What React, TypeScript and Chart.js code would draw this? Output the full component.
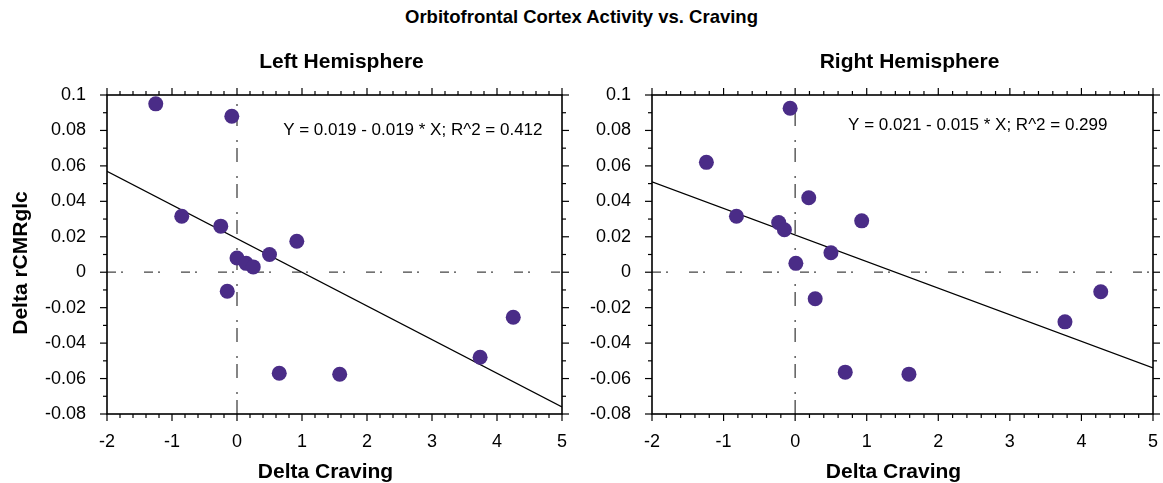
import React, { useEffect, useRef } from 'react';
import { Chart, registerables } from 'chart.js';
Chart.register(...registerables);

const FONT = "'Liberation Sans', Arial, Helvetica, sans-serif";

// ---- data ----
const leftX = [-1.25, -0.08, -0.85, -0.25, 0.0, 0.14, 0.25, 0.5, 0.92, -0.15, 0.65, 1.58, 3.74, 4.25];
const leftY = [0.095, 0.088, 0.0316, 0.026, 0.008, 0.005, 0.003, 0.01, 0.0175, -0.0107, -0.057, -0.0576, -0.048, -0.0254];
const rightX = [-1.24, -0.82, -0.23, -0.15, -0.07, 0.19, 0.01, 0.5, 0.93, 0.28, 0.7, 1.59, 3.77, 4.27];
const rightY = [0.062, 0.0316, 0.028, 0.024, 0.0925, 0.042, 0.005, 0.011, 0.029, -0.015, -0.0564, -0.0575, -0.028, -0.011];

// regression lines (endpoints at axis limits)
const fitX = [-2, 5];
const leftFitY = [0.057, -0.076];
const rightFitY = [0.051, -0.054];

// zero reference lines
const zeroHX = [-2, 5];
const zeroHY = [0, 0];
const zeroVX = [0, 0];
const zeroVY = [-0.08, 0.1];

const X_MIN = -2;
const X_MAX = 5;
const Y_MIN = -0.08;
const Y_MAX = 0.1;

const mainTitle = 'Orbitofrontal Cortex Activity vs. Craving';
const leftTitle = 'Left Hemisphere';
const rightTitle = 'Right Hemisphere';
const xTitle = 'Delta Craving';
const yTitle = 'Delta rCMRglc';
const leftEq = 'Y = 0.019 - 0.019 * X; R^2 = 0.412';
const rightEq = 'Y = 0.021 - 0.015 * X; R^2 = 0.299';

type PanelProps = {
  left: number;
  width: number;
  yAxisWidth: number;
  padRight: number;
  xs: number[];
  ys: number[];
  fitY: number[];
  subtitle: string;
  equation: string;
  eqPos: [number, number];
  showYTitle: boolean;
};

function Panel(p: PanelProps) {
  const ref = useRef<HTMLCanvasElement | null>(null);
  useEffect(() => {
    if (!ref.current) return;
    const pts = p.xs.map((x, i) => ({ x, y: p.ys[i] }));
    const fit = fitX.map((x, i) => ({ x, y: p.fitY[i] }));
    const zh = zeroHX.map((x, i) => ({ x, y: zeroHY[i] }));
    const zv = zeroVX.map((x, i) => ({ x, y: zeroVY[i] }));

    const framePlugin = {
      id: 'frame',
      afterDraw(chart: any) {
        const { ctx, chartArea: a } = chart;
        const xs = chart.scales.x;
        const ys = chart.scales.y;
        ctx.save();
        ctx.strokeStyle = '#000';
        ctx.lineWidth = 1.6;
        ctx.strokeRect(a.left, a.top, a.right - a.left, a.bottom - a.top);
        ctx.lineWidth = 1.2;
        const seg = (x1: number, y1: number, x2: number, y2: number) => {
          ctx.beginPath();
          ctx.moveTo(x1, y1);
          ctx.lineTo(x2, y2);
          ctx.stroke();
        };
        for (let i = 0; i <= 35; i++) {
          const v = X_MIN + i * 0.2;
          const len = i % 5 === 0 ? 7 : 4;
          const px = xs.getPixelForValue(v);
          seg(px, a.bottom, px, a.bottom + len);
          seg(px, a.top, px, a.top - len);
        }
        for (let i = 0; i <= 18; i++) {
          const v = Y_MIN + i * 0.01;
          const len = i % 2 === 0 ? 7 : 4;
          const py = ys.getPixelForValue(v);
          seg(a.left, py, a.left - len, py);
          seg(a.right, py, a.right + len, py);
        }
        ctx.fillStyle = '#000';
        ctx.textBaseline = 'middle';
        // equation
        ctx.font = `17px ${FONT}`;
        ctx.textAlign = 'left';
        ctx.fillText(p.equation, xs.getPixelForValue(p.eqPos[0]), ys.getPixelForValue(p.eqPos[1]));
        // subtitle
        ctx.font = `bold 21px ${FONT}`;
        ctx.textAlign = 'center';
        const cx = (a.left + a.right) / 2;
        ctx.fillText(p.subtitle, cx + 7, 62);
        ctx.fillText(xTitle, cx - 9, 472);
        if (p.showYTitle) {
          ctx.save();
          ctx.translate(21, 263);
          ctx.rotate(-Math.PI / 2);
          ctx.fillText(yTitle, 0, 0);
          ctx.restore();
        }
        ctx.restore();
      },
    };

    const chart = new Chart(ref.current, {
      type: 'scatter',
      data: {
        datasets: [
          {
            data: pts,
            backgroundColor: '#4a2c87',
            borderWidth: 0,
            pointRadius: 7.5,
            pointHoverRadius: 7.5,
          },
          {
            type: 'line',
            data: fit,
            borderColor: '#000',
            borderWidth: 1.3,
            pointRadius: 0,
            fill: false,
          },
          {
            type: 'line',
            data: zh,
            borderColor: '#444',
            borderWidth: 1.3,
            borderDash: [9, 5, 2, 21],
            pointRadius: 0,
            fill: false,
          },
          {
            type: 'line',
            data: zv,
            borderColor: '#444',
            borderWidth: 1.3,
            borderDash: [14, 6, 2, 14],
            pointRadius: 0,
            fill: false,
          },
        ] as any,
      },
      options: {
        responsive: false,
        animation: false,
        devicePixelRatio: 1,
        layout: { padding: { top: 95, bottom: 0, left: 0, right: p.padRight } },
        plugins: { legend: { display: false }, tooltip: { enabled: false }, title: { display: false } },
        scales: {
          x: {
            type: 'linear',
            min: X_MIN,
            max: X_MAX,
            grid: { display: false, drawTicks: false },
            border: { display: false },
            ticks: { stepSize: 1, padding: 17, color: '#000', font: { family: FONT, size: 18 } },
            afterFit: (s: any) => {
              s.height = 69;
              s.paddingLeft = 0;
              s.paddingRight = 0;
            },
          },
          y: {
            type: 'linear',
            min: Y_MIN,
            max: Y_MAX,
            grid: { display: false, drawTicks: false },
            border: { display: false },
            ticks: {
              stepSize: 0.02,
              padding: 21,
              color: '#000',
              font: { family: FONT, size: 18 },
              callback: (v: any) => String(+Number(v).toFixed(2)),
            },
            afterFit: (s: any) => {
              s.width = p.yAxisWidth;
              s.paddingTop = 0;
              s.paddingBottom = 0;
            },
          },
        },
      },
      plugins: [framePlugin],
    } as any);
    return () => chart.destroy();
  }, []);
  return (
    <canvas
      ref={ref}
      width={p.width}
      height={483}
      style={{ position: 'absolute', left: p.left, top: 0, width: p.width, height: 483 }}
    />
  );
}

export default function App() {
  return (
    <div style={{ position: 'absolute', left: 0, top: 0, width: 1163, height: 483, background: '#fff', overflow: 'hidden' }}>
      <div
        style={{
          position: 'absolute',
          left: 0,
          top: 6,
          width: 1163,
          textAlign: 'center',
          font: `bold 18.5px ${FONT}`,
          lineHeight: '22px',
          color: '#000',
        }}
      >
        {mainTitle}
      </div>
      <Panel
        left={0}
        width={581}
        yAxisWidth={107}
        padRight={19}
        xs={leftX}
        ys={leftY}
        fitY={leftFitY}
        subtitle={leftTitle}
        equation={leftEq}
        eqPos={[0.71, 0.08]}
        showYTitle={true}
      />
      <Panel
        left={581}
        width={582}
        yAxisWidth={71}
        padRight={10}
        xs={rightX}
        ys={rightY}
        fitY={rightFitY}
        subtitle={rightTitle}
        equation={rightEq}
        eqPos={[0.74, 0.083]}
        showYTitle={false}
      />
    </div>
  );
}
